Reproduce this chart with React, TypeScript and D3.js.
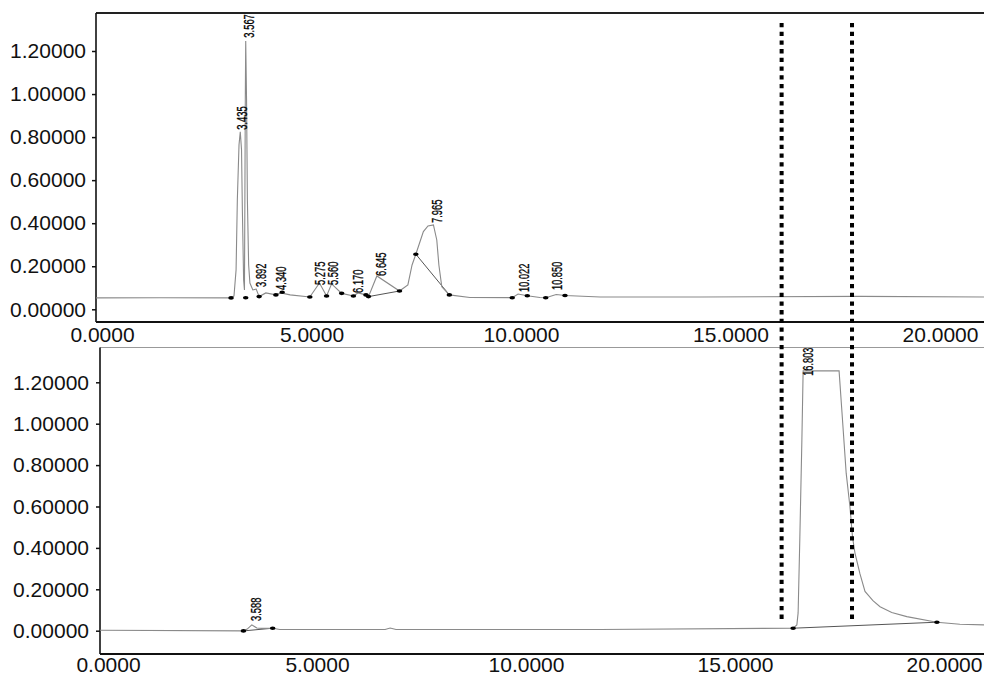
import React, { useEffect, useRef } from "react";
import * as d3 from "d3";

// x axis (retention time, min) and y axis (signal) ticks
const xTicks = [0, 5, 10, 15, 20];
const yTicks = [0, 0.2, 0.4, 0.6, 0.8, 1.0, 1.2];

// upper run
const topTimes = [
  -0.14, 1.38, 3.08, 3.15, 3.2, 3.23, 3.27, 3.3, 3.33, 3.35, 3.38, 3.4, 3.41,
  3.42, 3.43, 3.45, 3.47, 3.5, 3.53, 3.6, 3.68, 3.75, 3.91, 4.15, 4.27, 4.49,
  4.96, 5.19, 5.36, 5.48, 5.72, 6.0, 6.11, 6.3, 6.36, 6.56, 7.1, 7.3, 7.4,
  7.49, 7.67, 7.78, 7.91, 7.99, 8.04, 8.11, 8.29, 8.78, 9.79, 9.93, 10.15,
  10.45, 10.59, 10.84, 11.05, 11.89, 14.27, 18.09, 21.05,
];
const topSignal = [
  0.053, 0.054, 0.053, 0.062, 0.183, 0.508, 0.764, 0.825, 0.741, 0.462, 0.136,
  0.09, 0.508, 0.974, 1.246, 0.974, 0.508, 0.206, 0.122, 0.09, 0.094, 0.059,
  0.076, 0.067, 0.076, 0.067, 0.057, 0.122, 0.062, 0.118, 0.074, 0.062, 0.076,
  0.067, 0.059, 0.155, 0.085, 0.113, 0.206, 0.256, 0.361, 0.387, 0.392, 0.322,
  0.206, 0.105, 0.067, 0.055, 0.054, 0.071, 0.063, 0.055, 0.054, 0.069, 0.064,
  0.057, 0.057, 0.06, 0.057,
];
// integration marks (peak start / end)
const topMarkTimes = [
  3.08, 3.43, 3.75, 4.15, 4.3, 4.96, 5.36, 5.72, 6.0, 6.3, 6.36, 7.1, 7.49,
  8.29, 9.79, 10.15, 10.59, 11.05,
];
const topMarkSignal = [
  0.053, 0.054, 0.059, 0.067, 0.079, 0.057, 0.062, 0.074, 0.062, 0.067, 0.059,
  0.085, 0.256, 0.067, 0.054, 0.063, 0.054, 0.064,
];
const topPeakLabels = [
  "3.435", "3.567", "3.892", "4.340", "5.275", "5.560", "6.170", "6.645",
  "7.965", "10.022", "10.850",
];
const topPeakTimes = [3.3, 3.46, 3.75, 4.22, 5.16, 5.47, 6.06, 6.61, 7.95, 10.02, 10.81];
const topPeakHeights = [0.82, 1.248, 0.09, 0.076, 0.099, 0.099, 0.062, 0.141, 0.387, 0.067, 0.076];
const topBaseFrom = [[6.36, 0.059], [7.49, 0.256]];
const topBaseTo = [[7.1, 0.085], [8.29, 0.067]];

// lower run
const bottomTimes = [
  -0.19, 3.24, 3.33, 3.44, 3.56, 3.68, 3.94, 4.11, 6.63, 6.75, 6.89, 11.77,
  16.39, 16.48, 16.51, 16.55, 16.6, 16.63, 17.49, 17.55, 17.66, 17.75, 17.81,
  17.87, 17.99, 18.11, 18.3, 18.47, 18.75, 19.11, 19.83, 20.38, 20.96,
];
const bottomSignal = [
  0.002, -0.001, 0.008, 0.028, 0.013, 0.011, 0.012, 0.006, 0.006, 0.013, 0.006,
  0.006, 0.012, 0.028, 0.086, 0.438, 0.921, 1.255, 1.255, 1.082, 0.761, 0.599,
  0.454, 0.375, 0.274, 0.19, 0.145, 0.116, 0.088, 0.068, 0.041, 0.031, 0.028,
];
const bottomMarkTimes = [3.24, 3.94, 16.39, 19.83];
const bottomMarkSignal = [-0.001, 0.012, 0.012, 0.041];
const bottomPeakLabels = ["3.588", "16.803"];
const bottomPeakTimes = [3.49, 16.69];
const bottomPeakHeights = [0.032, 1.217];
const bottomBaseFrom = [[3.24, -0.001], [16.39, 0.012]];
const bottomBaseTo = [[3.94, 0.012], [19.83, 0.041]];

// dotted cut markers (upper time scale)
const cutTimes = [16.22, 17.9];

export default function App() {
  const svgRef = useRef(null);

  useEffect(() => {
    const svg = d3.select(svgRef.current);
    svg.selectAll("*").remove();
    const width = 984;
    const font = "Liberation Sans, Arial, sans-serif";

    const panels = [
      {
        left: 96, top: 13, bottom: 322,
        x: d3.scaleLinear().domain([0, 20]).range([102, 940]),
        y: d3.scaleLinear().domain([0, 1.2]).range([309.3, 51]),
        times: topTimes, signal: topSignal,
        markT: topMarkTimes, markV: topMarkSignal,
        labels: topPeakLabels, pT: topPeakTimes, pV: topPeakHeights,
        baseFrom: topBaseFrom, baseTo: topBaseTo,
        topStroke: "#222", topWidth: 2, xPad: 5, yPad: 6,
      },
      {
        left: 100, top: 347.5, bottom: 654,
        x: d3.scaleLinear().domain([0, 20]).range([108, 944]),
        y: d3.scaleLinear().domain([0, 1.2]).range([630.7, 382.3]),
        times: bottomTimes, signal: bottomSignal,
        markT: bottomMarkTimes, markV: bottomMarkSignal,
        labels: bottomPeakLabels, pT: bottomPeakTimes, pV: bottomPeakHeights,
        baseFrom: bottomBaseFrom, baseTo: bottomBaseTo,
        topStroke: "#999", topWidth: 1, xPad: 3.5, yPad: 7,
      },
    ];

    panels.forEach((p) => {
      const g = svg.append("g");

      // frame
      g.append("line").attr("x1", p.left).attr("x2", width)
        .attr("y1", p.top).attr("y2", p.top)
        .attr("stroke", p.topStroke).attr("stroke-width", p.topWidth);
      g.append("line").attr("x1", p.left).attr("x2", p.left)
        .attr("y1", p.top).attr("y2", p.bottom)
        .attr("stroke", "#111").attr("stroke-width", 1.6);
      g.append("line").attr("x1", p.left).attr("x2", width)
        .attr("y1", p.bottom).attr("y2", p.bottom)
        .attr("stroke", "#111").attr("stroke-width", 2);

      // y axis
      const yAxis = d3.axisLeft(p.y).tickValues(yTicks)
        .tickFormat(d3.format(".5f")).tickSize(4).tickPadding(p.yPad);
      const ya = g.append("g").attr("transform", `translate(${p.left},0)`).call(yAxis);
      ya.select(".domain").remove();
      ya.selectAll("line").attr("stroke", "#111").attr("stroke-width", 1.5);
      ya.selectAll("text").attr("font-family", font).attr("font-size", 21).attr("fill", "#111");

      // x axis
      const xAxis = d3.axisBottom(p.x).tickValues(xTicks)
        .tickFormat(d3.format(".4f")).tickSize(0).tickPadding(p.xPad);
      const xa = g.append("g").attr("transform", `translate(0,${p.bottom})`).call(xAxis);
      xa.select(".domain").remove();
      xa.selectAll("text").attr("font-family", font).attr("font-size", 21).attr("fill", "#111");

      // baselines drawn under peaks
      g.selectAll(".base").data(p.baseFrom).enter().append("line")
        .attr("x1", (d) => p.x(d[0])).attr("y1", (d) => p.y(d[1]))
        .attr("x2", (d, i) => p.x(p.baseTo[i][0])).attr("y2", (d, i) => p.y(p.baseTo[i][1]))
        .attr("stroke", "#555").attr("stroke-width", 1);

      // trace
      const line = d3.line<number>()
        .x((d, i) => p.x(p.times[i]))
        .y((d) => p.y(d));
      g.append("path").datum(p.signal).attr("d", line)
        .attr("fill", "none").attr("stroke", "#8a8a8a").attr("stroke-width", 1.1);

      // integration marks
      g.selectAll(".mark").data(p.markT).enter().append("ellipse")
        .attr("cx", (d) => p.x(d)).attr("cy", (d, i) => p.y(p.markV[i]))
        .attr("rx", 2.8).attr("ry", 1.8).attr("fill", "#000");

      // peak labels
      g.selectAll(".lbl").data(p.labels).enter().append("text")
        .attr("transform", (d, i) => `translate(${p.x(p.pT[i]) + 7},${p.y(p.pV[i]) - 3}) rotate(-90)`)
        .attr("font-family", "Liberation Sans Narrow, Liberation Sans, Arial, sans-serif")
        .attr("font-size", 15)
        .attr("textLength", (d) => d.length * 4.7)
        .attr("lengthAdjust", "spacingAndGlyphs")
        .attr("fill", "#000")
        .attr("stroke", "#000")
        .attr("stroke-width", 0.3)
        .text((d) => d);
    });

    // dotted cut markers spanning both runs
    const xTop = panels[0].x;
    svg.selectAll(".cut").data(cutTimes).enter().append("line")
      .attr("x1", (d) => xTop(d)).attr("x2", (d) => xTop(d))
      .attr("y1", 23).attr("y2", 623)
      .attr("stroke", "#000").attr("stroke-width", 4)
      .attr("stroke-dasharray", "4.3 4.4");
  }, []);

  return (
    <svg
      ref={svgRef}
      width={984}
      height={677}
      style={{ position: "absolute", left: 0, top: 0, background: "#fff" }}
    />
  );
}
